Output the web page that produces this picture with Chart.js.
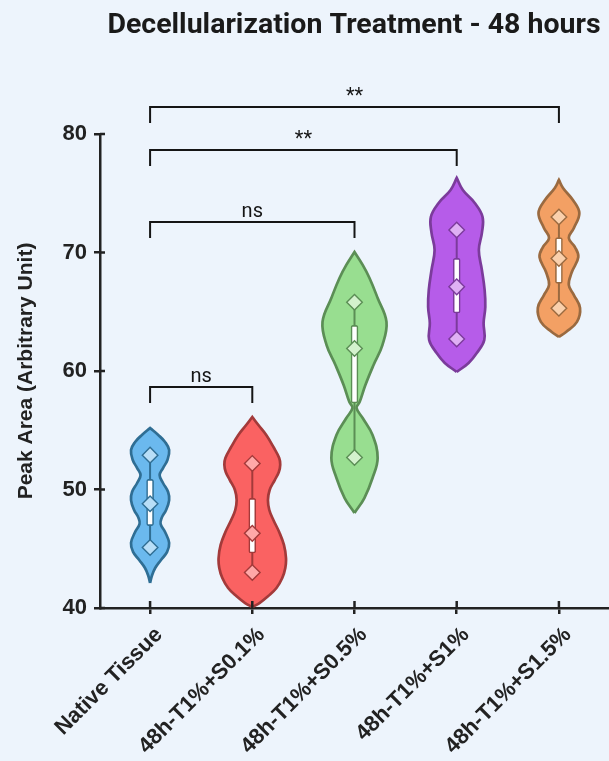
<!DOCTYPE html>
<html>
<head>
<meta charset="utf-8">
<script src="https://cdn.jsdelivr.net/npm/chart.js@4.4.1/dist/chart.umd.min.js"></script>
<style>
  html, body { margin: 0; padding: 0; background: #EDF4FC; }
  #wrap { width: 609px; height: 761px; position: relative; }
</style>
</head>
<body>
<div id="wrap"><canvas id="violin"></canvas></div>
<script>
// categories and raw points (3 replicates each)
const categories = ['Native Tissue', '48h-T1%+S0.1%', '48h-T1%+S0.5%', '48h-T1%+S1%', '48h-T1%+S1.5%'];
const points = [
  [52.9, 48.8, 45.1],
  [52.2, 46.3, 43.0],
  [65.8, 61.9, 52.7],
  [71.9, 67.1, 62.7],
  [73.0, 69.5, 65.3]
];

// violin outlines: levels (y) and relative density (0..1)
const violinLevels = [
  [55.19, 54.60, 54.01, 53.33, 52.49, 51.81, 51.22, 50.55, 49.79, 49.11, 48.27, 47.60, 47.09, 46.41, 45.49, 44.73, 44.05, 43.38, 42.78, 42.11],
  [56.12, 55.44, 54.60, 53.59, 52.66, 52.07, 51.48, 50.80, 49.96, 49.11, 48.27, 47.43, 46.41, 45.32, 44.22, 43.38, 42.53, 41.69, 41.01, 40.42, 40.08],
  [70.04, 68.95, 67.85, 66.16, 64.14, 62.19, 60.51, 58.82, 57.38, 56.88, 56.03, 54.60, 52.66, 50.97, 49.28, 48.02],
  [76.29, 75.27, 74.18, 73.00, 71.65, 70.21, 68.52, 66.84, 65.40, 64.05, 62.62, 61.52, 60.68, 59.92],
  [76.12, 75.44, 74.43, 73.33, 72.07, 71.22, 70.46, 69.62, 68.35, 67.26, 66.41, 65.32, 64.14, 63.29, 62.87]
];
const violinDensity = [
  [0, .24, .44, .56, .51, .38, .28, .38, .53, .56, .47, .34, .31, .44, .56, .50, .32, .15, .06, 0],
  [0, .18, .41, .62, .79, .82, .78, .66, .51, .46, .50, .62, .79, .93, .99, .97, .88, .71, .47, .21, 0],
  [0, .24, .44, .68, .94, .82, .56, .32, .15, .06, .24, .53, .68, .53, .29, 0],
  [0, .18, .53, .76, .74, .65, .74, .82, .84, .79, .81, .59, .35, 0],
  [0, .12, .41, .60, .44, .29, .47, .57, .38, .29, .44, .62, .53, .21, 0]
];

// significance brackets
const comparisons = [[0, 1], [0, 2], [0, 3], [0, 4]];
const comparisonLabels = ['ns', 'ns', '**', '**'];
const comparisonLevels = [58.65, 72.57, 78.65, 82.28];

const yTicks = [40, 50, 60, 70, 80];

const fills = ['#6BB9EE', '#FA6262', '#98DE90', '#B65CE9', '#F3A064'];
const strokes = ['#2F6E94', '#A33A3A', '#5B8E55', '#7B3B9B', '#9A6A40'];
const dots = ['#B8DEF7', '#FFA8A8', '#D3F2CD', '#DFB0F4', '#FAD0AC'];

const AXIS = '#222222';
const FONT = '"Liberation Sans", Arial, sans-serif';
const HALF = 0.333;   // max half width of a violin, in category units
const DROP = 1.35;    // bracket leg length, in y units

function quantile(arr, p) {
  const s = arr.slice().sort((a, b) => a - b);
  const pos = (s.length - 1) * p, lo = Math.floor(pos), hi = Math.ceil(pos);
  return s[lo] + (s[hi] - s[lo]) * (pos - lo);
}

const datasets = [];

violinLevels.forEach((levels, g) => {
  // outline: up the right side, then down the left side (top tip repeated so it stays pointed)
  const right = levels.map((y, k) => ({ x: g + violinDensity[g][k] * HALF, y })).reverse();
  const left = levels.map((y, k) => ({ x: g - violinDensity[g][k] * HALF, y }));
  datasets.push({
    type: 'line',
    data: right.concat(left),
    borderColor: strokes[g],
    backgroundColor: fills[g],
    borderWidth: 2.7,
    fill: 'shape',
    tension: 0.4,
    pointRadius: 0,
    order: 4
  });
  // whisker
  datasets.push({
    type: 'line',
    data: [{ x: g, y: Math.min(...points[g]) }, { x: g, y: Math.max(...points[g]) }],
    borderColor: strokes[g],
    borderWidth: 2,
    pointRadius: 0,
    order: 3
  });
});

// boxes (interquartile range)
datasets.push({
  type: 'bar',
  data: points.map((p, g) => ({ x: g, y: [quantile(p, 0.25), quantile(p, 0.75)] })),
  backgroundColor: '#FFFFFF',
  borderColor: strokes,
  borderWidth: 1.6,
  borderSkipped: false,
  borderRadius: 2,
  barThickness: 7,
  grouped: false,
  order: 2
});

// individual points
datasets.push({
  type: 'scatter',
  data: points.flatMap((p, g) => p.map(y => ({ x: g, y }))),
  pointStyle: 'rectRot',
  pointRadius: 7.8,
  pointBorderWidth: 1.4,
  pointBackgroundColor: points.flatMap((p, g) => p.map(() => dots[g])),
  pointBorderColor: points.flatMap((p, g) => p.map(() => strokes[g])),
  order: 1
});

// brackets
comparisons.forEach(([a, b], i) => {
  const lvl = comparisonLevels[i];
  datasets.push({
    type: 'line',
    data: [{ x: a, y: lvl - DROP }, { x: a, y: lvl }, { x: b, y: lvl }, { x: b, y: lvl - DROP }],
    borderColor: '#151515',
    borderWidth: 2,
    pointRadius: 0,
    tension: 0,
    clip: false,
    order: 0
  });
});

const decor = {
  id: 'decor',
  afterDraw(chart) {
    const { ctx, chartArea, scales: { x, y } } = chart;
    ctx.save();
    // inner half of the crossing tick marks
    ctx.strokeStyle = AXIS;
    ctx.lineWidth = 2.5;
    ctx.beginPath();
    yTicks.forEach(v => {
      const py = y.getPixelForValue(v);
      ctx.moveTo(chartArea.left, py);
      ctx.lineTo(chartArea.left + 5, py);
    });
    categories.forEach((c, i) => {
      const px = x.getPixelForValue(i);
      ctx.moveTo(px, chartArea.bottom);
      ctx.lineTo(px, chartArea.bottom - 7);
    });
    ctx.stroke();

    // significance labels
    ctx.fillStyle = '#151515';
    ctx.font = '20px Roboto, sans-serif';
    ctx.textAlign = 'center';
    ctx.textBaseline = 'alphabetic';
    comparisons.forEach(([a, b], i) => {
      const px = (x.getPixelForValue(a) + x.getPixelForValue(b)) / 2;
      ctx.fillText(comparisonLabels[i], px, y.getPixelForValue(comparisonLevels[i]) - 5);
    });

    // title, centred over the plot area
    ctx.fillStyle = '#1a1a1a';
    ctx.font = 'bold 28.5px Roboto, sans-serif';
    ctx.fillText('Decellularization Treatment - 48 hours', 354, 33);
    ctx.restore();
  }
};

new Chart(document.getElementById('violin'), {
  type: 'line',
  data: { datasets },
  options: {
    responsive: true,
    maintainAspectRatio: false,
    animation: false,
    layout: { autoPadding: false, padding: { top: 134, right: 0, left: 0, bottom: 0 } },
    plugins: {
      legend: { display: false },
      tooltip: { enabled: false }
    },
    scales: {
      x: {
        type: 'linear',
        min: -0.49,
        max: 4.49,
        offset: false,
        afterBuildTicks: axis => { axis.ticks = categories.map((c, i) => ({ value: i })); },
        afterFit: axis => { axis.height = 153; axis.paddingRight = 0; },
        ticks: {
          autoSkip: false,
          minRotation: 45,
          maxRotation: 45,
          padding: 8,
          labelOffset: 9,
          color: AXIS,
          font: { family: FONT, size: 22, weight: 'bold' },
          callback: v => categories[v]
        },
        grid: { offset: false, drawOnChartArea: false, tickLength: 6, color: AXIS, lineWidth: 2.5 },
        border: { color: AXIS, width: 2.5 }
      },
      y: {
        min: 40,
        max: 80,
        afterBuildTicks: axis => { axis.ticks = yTicks.map(v => ({ value: v })); },
        afterFit: axis => { axis.width = 100; },
        ticks: {
          padding: 7,
          color: AXIS,
          font: { family: FONT, size: 22, weight: 'bold' }
        },
        grid: { drawOnChartArea: false, tickLength: 6, color: AXIS, lineWidth: 2.5 },
        border: { color: AXIS, width: 2.5 },
        title: {
          display: true,
          text: 'Peak Area (Arbitrary Unit)',
          color: AXIS,
          font: { family: FONT, size: 21, weight: 'bold' },
          padding: { top: 14, bottom: 0 }
        }
      }
    }
  },
  plugins: [decor]
});
</script>
</body>
</html>
